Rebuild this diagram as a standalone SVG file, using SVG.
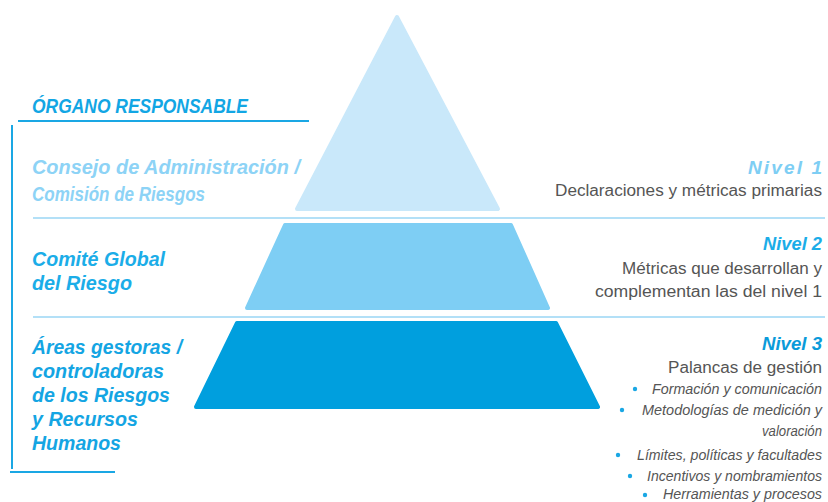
<svg xmlns="http://www.w3.org/2000/svg" width="828" height="502" viewBox="0 0 828 502">
<style>
.lbl{font-family:"Liberation Sans",Arial,sans-serif;font-weight:bold;font-style:italic;font-size:19.5px}
.desc{font-family:"Liberation Sans",Arial,sans-serif;font-size:16px;fill:#555555}
.bul{font-family:"Liberation Sans",Arial,sans-serif;font-style:italic;font-size:14.5px;fill:#555555}
.lvl{font-family:"Liberation Sans",Arial,sans-serif;font-weight:bold;font-style:italic;font-size:19px}
.sep{stroke:#B3E0F7;stroke-width:2;fill:none}
.rule{stroke:#1AA7E4;stroke-width:2;fill:none}
.dot{fill:#1AA7E4}
</style>
<rect width="828" height="502" fill="#FFFFFF"/>
<g id="connectors">
<line class="rule" x1="18" y1="121" x2="309" y2="121"/>
<line class="rule" x1="12" y1="125" x2="12" y2="469"/>
<line class="rule" x1="10" y1="472" x2="115" y2="472"/>
<line class="sep" x1="33" y1="218" x2="825" y2="218"/>
<line class="sep" x1="33" y1="317" x2="825" y2="317"/>
</g>
<g id="header">
<text class="lbl" x="32" y="113" font-size="18" fill="#12A6E4" textLength="216" lengthAdjust="spacingAndGlyphs">ÓRGANO RESPONSABLE</text>
</g>
<g id="nivel1">
<polygon points="397,17 498,209 297,209" fill="#C9E8FA" stroke="#C9E8FA" stroke-width="4" stroke-linejoin="round"/>
<text class="lbl" x="32" y="174" fill="#8DD3F6" textLength="268" lengthAdjust="spacingAndGlyphs">Consejo de Administración /</text>
<text class="lbl" x="32" y="201" fill="#8DD3F6" textLength="173" lengthAdjust="spacingAndGlyphs">Comisión de Riesgos</text>
<text class="lvl" x="822" y="174" text-anchor="end" fill="#7ECEF4" textLength="74" lengthAdjust="spacing">Nivel 1</text>
<text class="desc" x="822" y="196" text-anchor="end" textLength="267" lengthAdjust="spacingAndGlyphs">Declaraciones y métricas primarias</text>
</g>
<g id="nivel2">
<polygon points="285,225 511,225 548,308 247,308" fill="#7ECEF4" stroke="#7ECEF4" stroke-width="4" stroke-linejoin="round"/>
<text class="lbl" x="32" y="266" fill="#1BADE8" textLength="133" lengthAdjust="spacingAndGlyphs">Comité Global</text>
<text class="lbl" x="32" y="290" fill="#1BADE8" textLength="100" lengthAdjust="spacingAndGlyphs">del Riesgo</text>
<text class="lvl" x="822" y="250" text-anchor="end" fill="#1BADE8" textLength="59" lengthAdjust="spacingAndGlyphs">Nivel 2</text>
<text class="desc" x="822" y="274" text-anchor="end" textLength="200" lengthAdjust="spacingAndGlyphs">Métricas que desarrollan y</text>
<text class="desc" x="822" y="297" text-anchor="end" textLength="227" lengthAdjust="spacingAndGlyphs">complementan las del nivel 1</text>
</g>
<g id="nivel3">
<polygon points="237,323 556,323 598,407 196,407" fill="#009FDE" stroke="#009FDE" stroke-width="4" stroke-linejoin="round"/>
<text class="lbl" x="32" y="354" fill="#14A5E3" textLength="150" lengthAdjust="spacingAndGlyphs">Áreas gestoras /</text>
<text class="lbl" x="32" y="378" fill="#14A5E3" textLength="132" lengthAdjust="spacingAndGlyphs">controladoras</text>
<text class="lbl" x="32" y="402" fill="#14A5E3" textLength="138" lengthAdjust="spacingAndGlyphs">de los Riesgos</text>
<text class="lbl" x="32" y="426" fill="#14A5E3" textLength="106" lengthAdjust="spacingAndGlyphs">y Recursos</text>
<text class="lbl" x="32" y="450" fill="#14A5E3" textLength="89" lengthAdjust="spacingAndGlyphs">Humanos</text>
<text class="lvl" x="822" y="350" text-anchor="end" fill="#0A9BDA" textLength="60" lengthAdjust="spacingAndGlyphs">Nivel 3</text>
<text class="desc" x="822" y="373" text-anchor="end" font-size="17" textLength="154" lengthAdjust="spacingAndGlyphs">Palancas de gestión</text>
<circle class="dot" cx="635" cy="389" r="2.2"/>
<text class="bul" x="822" y="394" text-anchor="end" textLength="170" lengthAdjust="spacingAndGlyphs">Formación y comunicación</text>
<circle class="dot" cx="622" cy="410" r="2.2"/>
<text class="bul" x="822" y="415" text-anchor="end" textLength="180" lengthAdjust="spacingAndGlyphs">Metodologías de medición y</text>
<text class="bul" x="822" y="436" text-anchor="end" textLength="60" lengthAdjust="spacingAndGlyphs">valoración</text>
<circle class="dot" cx="618" cy="455" r="2.2"/>
<text class="bul" x="822" y="460" text-anchor="end" textLength="185" lengthAdjust="spacingAndGlyphs">Límites, políticas y facultades</text>
<circle class="dot" cx="630" cy="476" r="2.2"/>
<text class="bul" x="822" y="481" text-anchor="end" textLength="175" lengthAdjust="spacingAndGlyphs">Incentivos y nombramientos</text>
<circle class="dot" cx="645" cy="495" r="2.2"/>
<text class="bul" x="822" y="499" text-anchor="end" textLength="159" lengthAdjust="spacingAndGlyphs">Herramientas y procesos</text>
</g>
</svg>
